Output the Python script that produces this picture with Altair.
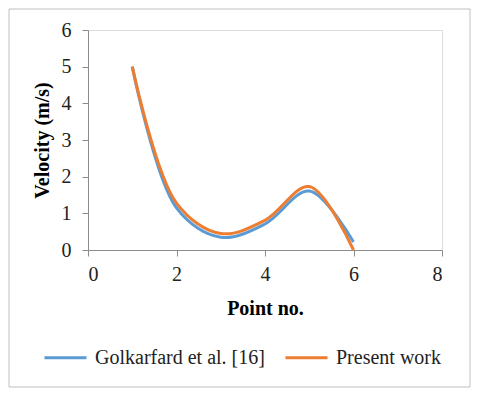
import altair as alt
import pandas as pd

points = [1, 2, 3, 4, 5, 6]
golkarfard = [5.0, 1.15, 0.35, 0.71, 1.61, 0.22]
present = [5.0, 1.28, 0.45, 0.81, 1.73, 0.0]
series_names = ["Golkarfard et al. [16]", "Present work"]
colors = ["#5B9BD5", "#ED7D31"]
x_ticks = [0, 2, 4, 6, 8]
y_ticks = [0, 1, 2, 3, 4, 5, 6]

df = pd.DataFrame({
    "point": points + points,
    "velocity": golkarfard + present,
    "series": [series_names[0]] * len(points) + [series_names[1]] * len(points),
})

FONT = "Liberation Serif"

border = alt.Chart(pd.DataFrame({"a": [0]})).mark_rect(
    fill="transparent", stroke="#c0c0c0", strokeWidth=1
).encode(
    x=alt.value(-79), x2=alt.value(382), y=alt.value(-21), y2=alt.value(357)
)

lines = alt.Chart(df).mark_line(interpolate="catmull-rom", strokeWidth=3).encode(
    x=alt.X("point:Q",
            scale=alt.Scale(domain=[0, 8], nice=False, zero=False),
            axis=alt.Axis(values=x_ticks, grid=False, domainColor="#8c8c8c",
                          tickColor="#8c8c8c", tickSize=6, labelFont=FONT,
                          labelFontSize=20, labelColor="#222222", labelPadding=8,
                          title="Point no.", titleFont=FONT, titleFontSize=20,
                          titleFontWeight="bold", titleColor="#000000",
                          titlePadding=14)),
    y=alt.Y("velocity:Q",
            scale=alt.Scale(domain=[0, 6], nice=False),
            axis=alt.Axis(values=y_ticks, grid=False, domainColor="#8c8c8c",
                          tickColor="#8c8c8c", tickSize=6, labelFont=FONT,
                          labelFontSize=20, labelColor="#222222", labelPadding=11,
                          title="Velocity (m/s)", titleFont=FONT, titleFontSize=20,
                          titleFontWeight="bold", titleColor="#000000",
                          titlePadding=9)),
    color=alt.Color("series:N",
                    scale=alt.Scale(domain=series_names, range=colors),
                    legend=alt.Legend(title=None, orient="none", direction="horizontal",
                                      legendX=-45, legendY=305,
                                      symbolType="stroke", symbolSize=1764,
                                      symbolStrokeWidth=3, labelFont=FONT,
                                      labelFontSize=20, labelColor="#222222",
                                      labelLimit=400,
                                      labelOffset=7, columnPadding=14)),
)

chart = alt.layer(border, lines).properties(
    width=354, height=220,
    padding={"left": 80, "top": 22, "right": 30, "bottom": 138},
    autosize=alt.AutoSizeParams(type="none"),
).configure_view(strokeWidth=0).configure_axis(
    labelFont=FONT, titleFont=FONT
).configure_legend(labelFont=FONT).configure(background="white")

chart.save("out.html", embed_options={"renderer": "svg", "actions": False})
